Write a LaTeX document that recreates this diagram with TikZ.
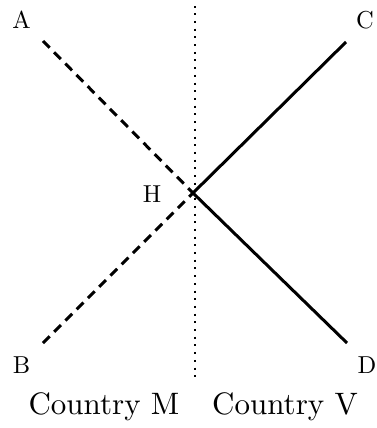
\documentclass[tikz,border=0pt]{standalone}
\usepackage{fontspec}
\setmainfont{lmroman10-regular.otf}
\begin{document}
\begin{tikzpicture}[x=1pt,y=-1pt,
  lbl/.style={inner sep=0pt,anchor=base,font=\fontsize{24.5}{29}\selectfont},
  ctry/.style={inner sep=0pt,anchor=base,font=\fontsize{31}{36}\selectfont},
  mline/.style={line width=3pt,dash pattern=on 9.5pt off 6.4pt},
  vline/.style={line width=3pt},
  border/.style={line width=2pt,dash pattern=on 2pt off 5.7pt,dash phase=0.7pt}]
\useasboundingbox (0,0) rectangle (376,428);
\coordinate (a) at (43,41);
\coordinate (b) at (43,343);
\coordinate (c) at (346,42);
\coordinate (d) at (347,343);
\coordinate (h) at (193,193);
\coordinate (top) at (195,6.3);
\coordinate (bot) at (195,381);
\node[lbl] (A) at (21.5,29) {A};
\node[lbl] (C) at (365,29) {C};
\node[lbl] (B) at (21.5,373) {B};
\node[lbl] (D) at (367,373) {D};
\node[lbl] (H) at (152,202) {H};
\node[ctry] (M) at (104,414) {Country M};
\node[ctry] (V) at (285,414) {Country V};
\draw[border] (top) -- (bot);
\draw[mline] (a) -- (h);
\draw[mline] (b) -- (h);
\draw[vline] (c) -- (h);
\draw[vline] (d) -- (h);
\end{tikzpicture}
\end{document}
